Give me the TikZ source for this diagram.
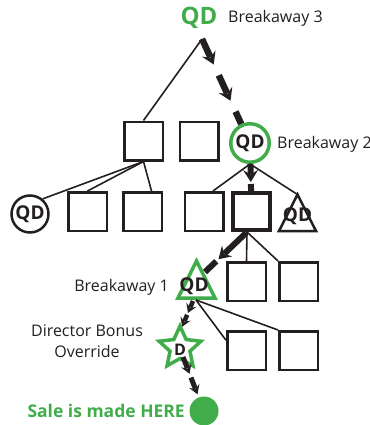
\documentclass[tikz,border=0pt]{standalone}
\usepackage{fontspec}
\setmainfont{Open Sans}
\usetikzlibrary{arrows.meta,shapes.geometric,decorations.markings,calc}
\definecolor{qgreen}{HTML}{40AC4A}
\definecolor{ink}{HTML}{231F20}
\tikzset{
  box/.style={draw=ink, line width=2.5pt, minimum size=38.5pt, inner sep=0pt, fill=white},
  conn/.style={draw=ink, line width=1.6pt},
  qd/.style={font=\fontsize{19}{19}\selectfont\bfseries, inner sep=0pt, text=ink},
  lbl/.style={font=\fontsize{16}{21}\selectfont, inner sep=0pt, text=ink},
  ftip/.tip={Stealth[length=12pt, width=15pt, inset=4.5pt, line width=0pt]},
  ftipS/.tip={Stealth[length=9pt, width=11pt, inset=3.5pt, line width=0pt]},
  flow/.style n args={6}{draw=ink, line width=#1, dash pattern=on #2 off #3,
     postaction={decorate, decoration={markings, mark=between positions #4 and 1 step #5 with {\arrow[ink]{#6}}}}},
}
\begin{document}
\begin{tikzpicture}[x=1pt, y=-1pt]
\useasboundingbox (0,0) rectangle (369,425);
% top
\node[qd, text=qgreen, font=\fontsize{24}{24}\selectfont\bfseries] (qtop) at (199,18) {QD};
\node[lbl, anchor=west] (b3) at (228,18) {Breakaway 3};
\coordinate (top) at (202,39);
% row 1
\node[box] (A) at (143.5,141) {};
\node[box] (B) at (199,141) {};
\node[circle, draw=qgreen, line width=3.5pt, minimum size=38.5pt, fill=white, qd] (gc) at (250,143) {QD};
\node[lbl, anchor=west] (b2) at (277,144) {Breakaway 2};
% row 2
\node[circle, draw=ink, line width=2.5pt, minimum size=37pt, fill=white, qd] (bc) at (30,214) {QD};
\node[box] (C) at (87.5,211.5) {};
\node[box] (D) at (142.5,211.5) {};
\node[box] (E) at (204,211.5) {};
\node[box, line width=4pt, minimum size=37pt] (F) at (251.5,211.5) {};
\draw[draw=ink, line width=2.5pt, fill=white] (297.5,194.5) coordinate (bt1) -- (316,231) coordinate (bt2) -- (279,231) coordinate (bt3) -- cycle;
\node[qd] (btq) at (297.5,216) {QD};
% row 3
\draw[draw=qgreen, line width=3.5pt, fill=white] (196.5,261) coordinate (gt1) -- (215,298) coordinate (gt2) -- (178,298) coordinate (gt3) -- cycle;
\node[qd] (gtq) at (194,286) {QD};
\node[lbl, anchor=east] (b1) at (169,287) {Breakaway 1};
\node[box] (G) at (246.5,281.5) {};
\node[box] (H) at (298.5,281.5) {};
% row 4
\node[star, star points=5, star point ratio=2.1, draw=qgreen, line width=3.5pt, minimum size=44pt, inner sep=0pt, fill=white] (S) at (180,348) {};
\node[qd, font=\fontsize{16}{16}\selectfont\bfseries] (Sd) at (180,350) {D};
\node[lbl, align=center] (dbo) at (87,341) {Director Bonus\\Override};
\node[box] (I) at (246.5,350.5) {};
\node[box] (J) at (298.5,350.5) {};
% sale
\node[circle, fill=qgreen, minimum size=29pt, inner sep=0pt] (dot) at (204,411) {};
\node[font=\fontsize{17.5}{17.5}\selectfont\bfseries, text=qgreen, anchor=east, inner sep=0pt] (sale) at (185,411) {Sale is made HERE};
% thin connectors
\draw[conn] (top) -- (A.north);
\draw[conn] (A.south) -- (bc.50);
\draw[conn] (A.south) -- (C.north);
\draw[conn] (A.south) -- ($(D.north)+(9,0)$);
\draw[conn] (gc.south) -- ($(E.north)+(9,0)$);
\draw[conn] (gc.south) -- (bt1);
\coordinate (Fb) at (247,232);
\draw[conn] (Fb) -- (G.north);
\draw[conn] (Fb) -- (H.north west);
\coordinate (gb) at (196,300);
\draw[conn] (gb) -- ($(I.north west)!0.25!(I.south west)$);
\draw[conn] (gb) -- (J.north west);
% flow arrows
\draw[flow={6.5pt}{20pt}{20pt}{28pt}{40pt}{ftip}] (top) -- (gc);
\draw[flow={6pt}{10pt}{10pt}{18pt}{40pt}{ftip}] (gc) -- (F);
\coordinate (Ff) at (246,233);
\coordinate (gtR) at (205,272);
\draw[flow={6pt}{30pt}{11pt}{38pt}{41pt}{ftip}] (Ff) -- (gtR);
\coordinate (gbf) at (193,301);
\coordinate (St) at (182,327);
\draw[flow={4.5pt}{7pt}{8pt}{13pt}{15pt}{ftipS}] (gbf) -- (St);
\coordinate (Sb) at (183,357);
\draw[flow={5pt}{12pt}{10pt}{18pt}{22pt}{ftipS}] (Sb) -- (dot);
\end{tikzpicture}
\end{document}
